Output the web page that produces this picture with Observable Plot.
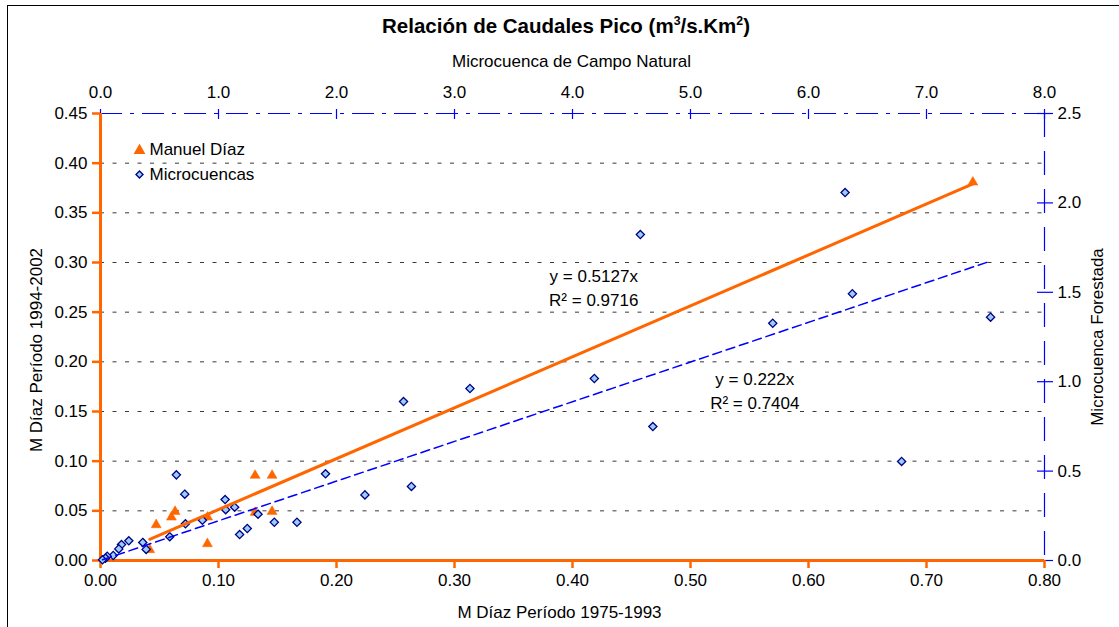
<!DOCTYPE html>
<html>
<head>
<meta charset="utf-8">
<script src="https://cdn.jsdelivr.net/npm/d3@7"></script>
<script src="https://cdn.jsdelivr.net/npm/@observablehq/plot@0.6"></script>
<style>
  body { margin: 0; background: #fff; font-family: "Liberation Sans", Arial, sans-serif; }
  #wrap { position: relative; width: 1119px; height: 627px; overflow: hidden; background: #fff; }
  #frame { position: absolute; left: 7px; top: 5px; width: 1140px; height: 650px; border: 1px solid #000; }
  #title { position: absolute; top: 14px; left: 0; width: 1132px; text-align: center; font-weight: bold; font-size: 20.5px; line-height: 23px; color: #000; }
  #title sup { font-size: 0.6em; line-height: 0; vertical-align: 0.65em; }
  #chart { position: absolute; left: 0; top: 0; }
</style>
</head>
<body>
<div id="wrap">
  <div id="frame"></div>
  <div id="chart"></div>
  <div id="title">Relación de Caudales Pico (m<sup>3</sup>/s.Km<sup>2</sup>)</div>
</div>
<script>
// ---- Data ----
// Manuel Díaz: primary axes (bottom: 1975-1993, left: 1994-2002)
const mdX = [0.0472, 0.0417, 0.0601, 0.0632, 0.0908, 0.0906, 0.131, 0.1454, 0.131, 0.1454, 0.7393];
const mdY = [0.0359, 0.0108, 0.0436, 0.0493, 0.0436, 0.0168, 0.0856, 0.0856, 0.0483, 0.0493, 0.3808];
// Microcuencas: secondary axes (top: Campo Natural, right: Forestada)
const mcX = [6.31, 4.575, 6.372, 5.697, 7.543, 2.568, 3.131, 4.185, 4.681, 6.789,
             1.907, 2.241, 2.635, 0.643, 0.714, 1.056, 1.061, 1.137, 0.72, 0.864,
             1.335, 1.473, 1.665, 1.179, 1.244, 0.587, 0.358, 0.387, 0.24, 0.178,
             0.155, 0.108, 0.057, 0.042, 0.017];
const mcY = [2.058, 1.823, 1.492, 1.327, 1.361, 0.889, 0.962, 1.018, 0.749, 0.554,
             0.485, 0.367, 0.414, 0.479, 0.371, 0.341, 0.284, 0.298, 0.205, 0.225,
             0.259, 0.214, 0.214, 0.145, 0.179, 0.133, 0.101, 0.062, 0.110, 0.089,
             0.065, 0.028, 0.024, 0.013, 0.004];
const mdSlope = 0.5127, mdR2 = 0.9716;
const mcSlope = 0.222,  mcR2 = 0.7404;

// Axis ticks
const xTicks = [0, 0.1, 0.2, 0.3, 0.4, 0.5, 0.6, 0.7, 0.8];
const yTicks = [0, 0.05, 0.1, 0.15, 0.2, 0.25, 0.3, 0.35, 0.4, 0.45];
const topTicks = [0, 1, 2, 3, 4, 5, 6, 7, 8];
const rightTicks = [0, 0.5, 1, 1.5, 2, 2.5];

const xDomain = [0, 0.8], yDomain = [0, 0.45];
const topDomain = [0, 8], rightDomain = [0, 2.5];
const kx = xDomain[1] / topDomain[1];
const ky = yDomain[1] / rightDomain[1];

const ORANGE = "#FF6600", BLUE = "#0000FF";
const md = mdX.map((x, i) => ({x, y: mdY[i]}));
const mc = mcX.map((x, i) => ({x: x * kx, y: mcY[i] * ky}));
const mdLine = [d3.min(mdX), d3.max(mdX)].map(x => ({x, y: mdSlope * x}));
const mcLine = [d3.min(mcX), d3.max(mcX)].map(x => ({x: x * kx, y: mcSlope * x * ky}));
const topPos = topTicks.map(v => v * kx);
const rightPos = rightTicks.map(v => v * ky);
const gridVals = yTicks.filter(v => v > 0 && v < yDomain[1]);

const FONT = '"Liberation Sans", Arial, sans-serif';
const T = {fontSize: 17, fill: "#000", lineAnchor: "middle"};

const chart = Plot.plot({
  width: 1119, height: 627,
  marginLeft: 100, marginRight: 75, marginTop: 113, marginBottom: 67,
  x: {domain: xDomain},
  y: {domain: yDomain},
  style: {fontFamily: FONT, fontSize: "17px", color: "#000", background: "transparent", overflow: "visible"},
  marks: [
    Plot.ruleY(gridVals, {stroke: "#3a3a3a", strokeWidth: 1, strokeDasharray: "4,8.5"}),
    // secondary axis lines
    Plot.ruleY([yDomain[1]], {stroke: BLUE, strokeWidth: 1.2, strokeDasharray: "22,8,4,8"}),
    Plot.ruleX([xDomain[1]], {stroke: BLUE, strokeWidth: 1.2, strokeDasharray: "24,14"}),
    // top axis (Campo Natural)
    Plot.axisX(topPos, {anchor: "top", tickSize: 10, dy: 5, stroke: BLUE, strokeWidth: 1.2, tickFormat: () => "", label: null}),
    Plot.axisX(topPos, {anchor: "top", tickSize: 0, tickPadding: 16, tickFormat: d => d3.format(".1f")(d / kx), label: null, fontSize: 17}),
    // right axis (Forestada)
    Plot.axisY(rightPos, {anchor: "right", tickSize: 16, dx: -8, stroke: BLUE, strokeWidth: 1.2, tickFormat: () => "", label: null}),
    Plot.axisY(rightPos, {anchor: "right", tickSize: 0, tickPadding: 13, tickFormat: d => d3.format(".1f")(d / ky), label: null, fontSize: 17}),
    // primary axes
    Plot.axisY(yTicks, {anchor: "left", tickSize: 8, tickPadding: 5, stroke: ORANGE, strokeWidth: 2.5, tickFormat: d3.format(".2f"), label: null, fontSize: 17}),
    Plot.axisX(xTicks, {anchor: "bottom", tickSize: 8, tickPadding: 5, stroke: ORANGE, strokeWidth: 2.5, tickFormat: d3.format(".2f"), label: null, fontSize: 17}),
    Plot.ruleX([xDomain[0]], {stroke: ORANGE, strokeWidth: 3}),
    Plot.ruleY([yDomain[0]], {stroke: ORANGE, strokeWidth: 3}),
    // points
    Plot.dot(md, {x: "x", y: "y", symbol: "triangle", r: 3.7, fill: ORANGE, stroke: ORANGE, strokeWidth: 0.5}),
    Plot.dot(mc, {x: "x", y: "y", symbol: "diamond2", r: 3.7, fill: "#99CCFF", stroke: "#000080", strokeWidth: 1.3}),
    // trend lines
    Plot.line(mdLine, {x: "x", y: "y", stroke: ORANGE, strokeWidth: 3}),
    Plot.line(mcLine, {x: "x", y: "y", stroke: BLUE, strokeWidth: 1.5, strokeDasharray: "9,5"}),
    // equations
    Plot.text([`y = ${mdSlope}x`, `R² = ${mdR2}`], {x: [0.418, 0.418], y: [0.286, 0.2617], text: d => d, ...T}),
    Plot.text([`y = ${mcSlope}x`, `R² = ${mcR2}`], {x: [0.5545, 0.5545], y: [0.1822, 0.158], text: d => d, ...T}),
    // legend
    Plot.dot([0], {frameAnchor: "top-left", dx: 39, dy: 37, symbol: "triangle", r: 3.4, fill: ORANGE, stroke: ORANGE}),
    Plot.dot([0], {frameAnchor: "top-left", dx: 39, dy: 61, symbol: "diamond2", r: 3.2, fill: "#99CCFF", stroke: "#000080", strokeWidth: 1.3}),
    Plot.text(["Manuel Díaz"], {frameAnchor: "top-left", dx: 49, dy: 36, textAnchor: "start", ...T}),
    Plot.text(["Microcuencas"], {frameAnchor: "top-left", dx: 49, dy: 61, textAnchor: "start", ...T}),
    // axis titles
    Plot.text(["M Díaz Período 1975-1993"], {frameAnchor: "bottom", dx: -13, dy: 52, textAnchor: "middle", ...T}),
    Plot.text(["M Díaz Período 1994-2002"], {frameAnchor: "left", dx: -64, dy: 13, rotate: -90, textAnchor: "middle", ...T}),
    Plot.text(["Microcuenca de Campo Natural"], {frameAnchor: "top", dx: -1, dy: -52, textAnchor: "middle", ...T}),
    Plot.text(["Microcuenca Forestada"], {frameAnchor: "right", dx: 53, dy: 0, rotate: -90, textAnchor: "middle", ...T})
  ]
});
document.getElementById("chart").appendChild(chart);
</script>
</body>
</html>
